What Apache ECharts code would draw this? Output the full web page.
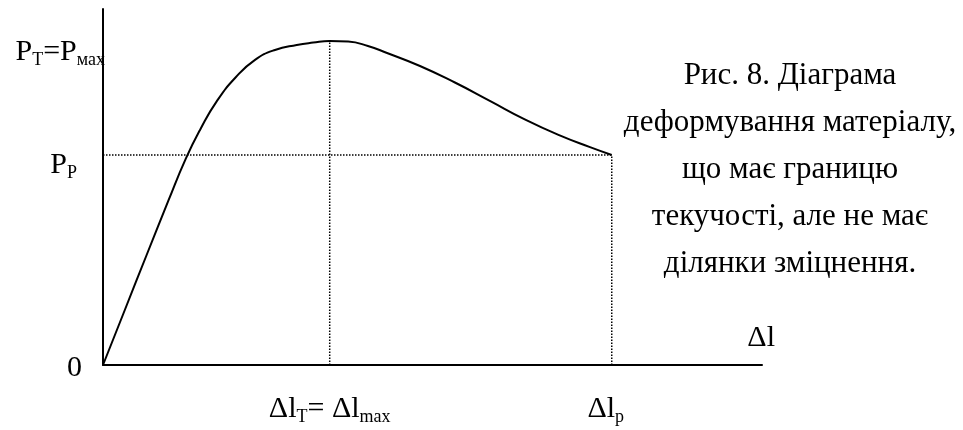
<!DOCTYPE html>
<html>
<head>
<meta charset="utf-8">
<script src="https://cdn.jsdelivr.net/npm/echarts@6/dist/echarts.min.js"></script>
<style>
  html, body { margin: 0; padding: 0; background: #fff; }
  #chart { width: 963px; height: 430px; }
</style>
</head>
<body>
<div id="chart"></div>
<script>
// Load–elongation curve (relative units: elongation 0..100, load 0..100)
const strainPts = [0, 3.31, 6.62, 9.95, 12.55, 14.8, 17.3, 20.18, 23.07, 26.1, 29.4, 31.9, 34.4, 37.2, 40.2, 43.1, 48.1, 53.4, 58.7, 64.0, 69.3, 73.9, 77.2];
const loadPts   = [0, 15.45, 30.9, 46.3, 57.9, 66.3, 74.2, 80.9, 85.7, 88.5, 89.9, 90.56, 91.0, 90.84, 89.6, 87.64, 84.0, 79.35, 74.2, 69.0, 64.5, 61.2, 59.0];

// Characteristic points: yield (= maximum) load and rupture
const yieldStrain = 34.4, yieldLoad = 91.0;
const breakStrain = 77.2, breakLoad = 59.0;

const captionLines = [
  'Рис. 8. Діаграма',
  'деформування матеріалу,',
  'що має границю',
  'текучості, але не має',
  'ділянки зміцнення.'
];

const FONT = '"Liberation Serif", "Times New Roman", serif';
const MAIN = 30, SUB = 18, CAPTION = 31;

const chart = echarts.init(document.getElementById('chart'), null, { renderer: 'canvas' });

const curve = strainPts.map((x, i) => [x, loadPts[i]]);
const dotted = { color: '#000', width: 1.5, type: [1.5, 1.5] };
const guide = (pts) => ({
  type: 'line', data: pts, symbol: 'none', silent: true,
  lineStyle: dotted, z: 1
});

chart.setOption({
  backgroundColor: '#fff',
  animation: false,
  grid: { left: 103, right: 201, top: 9, bottom: 65 },
  xAxis: {
    type: 'value', min: 0, max: 100,
    axisLine: { show: true, onZero: false, lineStyle: { color: '#000', width: 2 } },
    axisTick: { show: false }, axisLabel: { show: false }, splitLine: { show: false }
  },
  yAxis: {
    type: 'value', min: 0, max: 100,
    axisLine: { show: true, onZero: false, lineStyle: { color: '#000', width: 2 } },
    axisTick: { show: false }, axisLabel: { show: false }, splitLine: { show: false }
  },
  series: [
    guide([[0, breakLoad], [breakStrain, breakLoad]]),
    guide([[yieldStrain, 0], [yieldStrain, yieldLoad]]),
    guide([[breakStrain, 0], [breakStrain, breakLoad]]),
    {
      type: 'line', data: curve, smooth: 0.5,
      symbol: 'none', z: 3,
      lineStyle: { color: '#000', width: 2 }
    }
  ]
});

// Axis annotations placed at the pixel positions of the characteristic values
const px = (x, y) => chart.convertToPixel({ gridIndex: 0 }, [x, y]);
const o = px(0, 0), pk = px(yieldStrain, yieldLoad), br = px(breakStrain, breakLoad);
const axisEnd = px(100, 0);

const rich = {
  m: { fontFamily: FONT, fontSize: MAIN, color: '#000' },
  s: { fontFamily: FONT, fontSize: SUB, color: '#000', verticalAlign: 'bottom', padding: [0, 0, -2, 0] }
};
const label = (text, x, y, align) => ({
  type: 'text', x, y, silent: true,
  style: { text, rich, fontFamily: FONT, fontSize: MAIN, fill: '#000', align, verticalAlign: 'middle' }
});

chart.setOption({
  graphic: [
    label('{m|P}{s|Т}{m|=P}{s|мах}', o[0] + 2, pk[1] + 11, 'right'),
    label('{m|P}{s|P}', o[0] - 26, br[1] + 10, 'right'),
    label('{m|0}', o[0] - 21, o[1] + 3, 'right'),
    label('{m|Δl}', axisEnd[0] + 13, o[1] - 27, 'right'),
    label('{m|Δl}{s|T}{m|= Δl}{s|max}', pk[0], o[1] + 44, 'center'),
    label('{m|Δl}{s|p}', br[0] - 6, o[1] + 44, 'center'),
    {
      type: 'text', x: 790, y: 52, silent: true,
      style: {
        text: captionLines.join('\n'), fontFamily: FONT, fontSize: CAPTION,
        fill: '#000', align: 'center', verticalAlign: 'top', lineHeight: 47
      }
    }
  ]
});
</script>
</body>
</html>
